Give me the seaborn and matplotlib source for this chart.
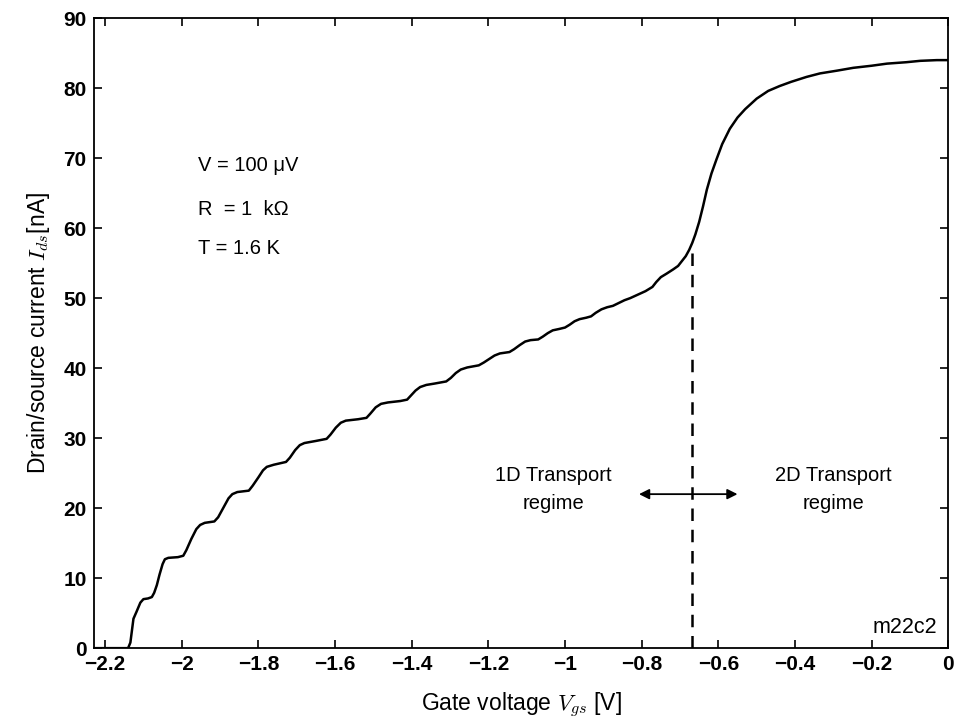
import matplotlib
matplotlib.use("Agg")
import matplotlib.pyplot as plt
import seaborn as sns
import pandas as pd

# Gate sweep: drain/source current (nA) vs. gate voltage (V)
gate_voltage = [
    -2.230, -2.140, -2.134, -2.130, -2.126, -2.118, -2.108, -2.100, -2.088,
    -2.078, -2.072, -2.065, -2.058, -2.050, -2.044, -2.035, -2.010, -1.996,
    -1.988, -1.975, -1.962, -1.952, -1.940, -1.915, -1.905, -1.892, -1.878,
    -1.868, -1.855, -1.825, -1.815, -1.800, -1.788, -1.778, -1.760, -1.728,
    -1.718, -1.704, -1.692, -1.680, -1.650, -1.622, -1.612, -1.598, -1.585,
    -1.572, -1.540, -1.518, -1.508, -1.494, -1.480, -1.462, -1.430, -1.412,
    -1.402, -1.390, -1.378, -1.362, -1.340, -1.310, -1.298, -1.285, -1.272,
    -1.255, -1.225, -1.212, -1.198, -1.184, -1.170, -1.145, -1.133, -1.118,
    -1.104, -1.090, -1.070, -1.058, -1.045, -1.032, -1.015, -1.000, -0.988,
    -0.975, -0.962, -0.945, -0.932, -0.920, -0.905, -0.890, -0.875, -0.860,
    -0.845, -0.830, -0.814, -0.790, -0.772, -0.762, -0.750, -0.735, -0.718,
    -0.705, -0.695, -0.685, -0.676, -0.668, -0.660, -0.650, -0.640, -0.630,
    -0.618, -0.605, -0.590, -0.570, -0.550, -0.530, -0.500, -0.470, -0.440,
    -0.410, -0.370, -0.335, -0.290, -0.248, -0.200, -0.160, -0.110, -0.073,
    -0.030, 0.000,
]
drain_current = [
    0.0, 0.0, 0.8, 2.5, 4.2, 5.2, 6.5, 7.0, 7.1,
    7.3, 7.9, 9.0, 10.5, 12.0, 12.7, 12.9, 13.0, 13.2,
    14.0, 15.6, 17.0, 17.6, 17.9, 18.1, 18.7, 20.0, 21.4,
    22.0, 22.3, 22.5, 23.2, 24.4, 25.4, 25.9, 26.2, 26.6,
    27.2, 28.3, 29.0, 29.3, 29.6, 29.9, 30.5, 31.5, 32.2,
    32.5, 32.7, 32.9, 33.5, 34.4, 34.9, 35.1, 35.3, 35.5,
    36.1, 36.8, 37.3, 37.6, 37.8, 38.1, 38.6, 39.3, 39.8,
    40.1, 40.4, 40.8, 41.3, 41.8, 42.1, 42.3, 42.7, 43.3,
    43.8, 44.0, 44.1, 44.5, 45.0, 45.4, 45.6, 45.8, 46.2,
    46.7, 47.0, 47.2, 47.4, 47.9, 48.4, 48.7, 48.9, 49.3,
    49.7, 50.0, 50.4, 51.0, 51.6, 52.3, 53.0, 53.5, 54.1,
    54.6, 55.3, 56.0, 56.9, 57.9, 59.1, 60.9, 63.1, 65.5,
    67.8, 69.8, 72.0, 74.2, 75.8, 77.0, 78.5, 79.6, 80.3,
    80.9, 81.6, 82.1, 82.5, 82.9, 83.2, 83.5, 83.7, 83.9,
    84.0, 84.0,
]

# Boundary between 1D and 2D transport
boundary_voltage = -0.67
boundary_current = 57.6

x_ticks = [-2.2, -2.0, -1.8, -1.6, -1.4, -1.2, -1.0, -0.8, -0.6, -0.4, -0.2, 0.0]
x_tick_labels = ["\u22122.2", "\u22122", "\u22121.8", "\u22121.6", "\u22121.4", "\u22121.2",
                 "\u22121", "\u22120.8", "\u22120.6", "\u22120.4", "\u22120.2", "0"]
y_ticks = [0, 10, 20, 30, 40, 50, 60, 70, 80, 90]

conditions = ["V = 100 \u03bcV", "R  = 1  k\u03a9", "T = 1.6 K"]

sns.set_theme(style="ticks")
plt.rcParams["font.family"] = ["Liberation Sans", "DejaVu Sans"]
plt.rcParams["mathtext.fontset"] = "cm"
plt.rcParams["xtick.direction"] = "in"
plt.rcParams["ytick.direction"] = "in"
plt.rcParams["text.color"] = "black"
plt.rcParams["axes.labelcolor"] = "black"

fig = plt.figure(figsize=(9.55, 7.25), dpi=100)
ax = fig.add_axes([0.098, 0.106, 0.895, 0.869])

sweep = pd.DataFrame({"Vgs": gate_voltage, "Ids": drain_current})
sns.lineplot(data=sweep, x="Vgs", y="Ids", sort=False, color="black",
             linewidth=1.8, ax=ax)

ax.plot([boundary_voltage, boundary_voltage], [0, boundary_current],
        color="black", linewidth=1.8, linestyle=(0, (5, 3.5)))

ax.annotate("", xy=(-0.807, 22.0), xytext=(-0.550, 22.0),
            arrowprops=dict(arrowstyle="<|-|>", color="black", lw=1.3,
                            mutation_scale=15, shrinkA=0, shrinkB=0))

ax.text(-1.03, 22.6, "1D Transport\nregime", ha="center", va="center",
        fontsize=14.5, linespacing=1.6)
ax.text(-0.30, 22.6, "2D Transport\nregime", ha="center", va="center",
        fontsize=14.5, linespacing=1.6)

for label, yv in zip(conditions, [69.0, 62.6, 57.1]):
    ax.text(-1.957, yv, label, ha="left", va="center", fontsize=14.5)

ax.text(-0.028, 3.0, "m22c2", ha="right", va="center", fontsize=15.5)

ax.set_xlim(-2.23, 0)
ax.set_ylim(0, 90)
ax.set_xticks(x_ticks)
ax.set_xticklabels(x_tick_labels)
ax.set_yticks(y_ticks)
ax.tick_params(axis="both", which="both", top=True, right=True,
               length=6, width=1.2, labelsize=15, pad=5, colors="black")
for lab in ax.get_xticklabels() + ax.get_yticklabels():
    lab.set_fontweight("bold")
for spine in ax.spines.values():
    spine.set_visible(True)
    spine.set_linewidth(1.3)
    spine.set_color("black")

ax.set_xlabel("Gate voltage $V_{gs}$ [V]", fontsize=16.5, labelpad=12)
ax.set_ylabel("Drain/source current $I_{ds}$[nA]", fontsize=16.5, labelpad=8)

fig.savefig("out.png", dpi=100, facecolor="white")
